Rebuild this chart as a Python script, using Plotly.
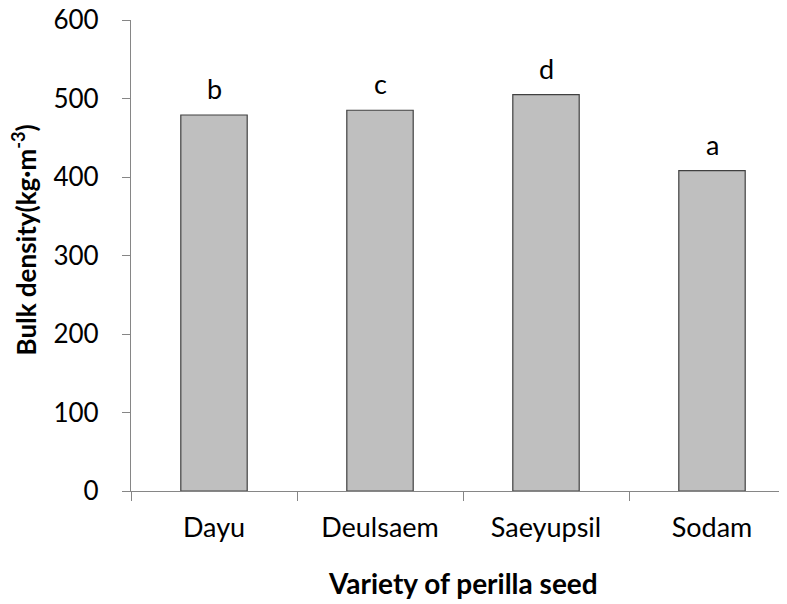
import plotly.graph_objects as go

varieties = ["Dayu", "Deulsaem", "Saeyupsil", "Sodam"]
bulk_density = [479, 485, 505, 408]
letters = ["b", "c", "d", "a"]
y_ticks = [0, 100, 200, 300, 400, 500, 600]

FONT = "Lato, 'Open Sans', sans-serif"
AXIS_COLOR = "#868686"

fig = go.Figure()
fig.add_trace(go.Bar(
    x=varieties, y=bulk_density, width=0.4,
    marker=dict(color="#BFBFBF", line=dict(color="#404040", width=1.2)),
    showlegend=False,
))

for v, val, lt in zip(varieties, bulk_density, letters):
    fig.add_annotation(x=v, y=val, xref="x", yref="y", text=lt, showarrow=False,
                       yanchor="bottom", yshift=8,
                       font=dict(family=FONT, size=27, color="black"))

fig.add_annotation(xref="paper", yref="paper", x=0.5, y=-0.195, text="<b>Variety of perilla seed</b>",
                   showarrow=False, xanchor="center", yanchor="middle",
                   font=dict(family=FONT, size=28, color="black"))
fig.add_annotation(xref="paper", yref="paper", x=-0.159, y=0.533,
                   text="<b>Bulk density(kg·m<sup>-3</sup>)</b>", textangle=-90,
                   showarrow=False, xanchor="center", yanchor="middle",
                   font=dict(family=FONT, size=26, color="black"))

fig.update_layout(
    width=787, height=604,
    margin=dict(l=122.5, r=0, t=12, b=121, autoexpand=False),
    plot_bgcolor="white", paper_bgcolor="white",
    font=dict(family=FONT, size=27, color="black"),
)
fig.update_xaxes(
    range=[-0.5, 3.5], showline=True, linecolor=AXIS_COLOR, linewidth=1.3,
    ticks="outside", tickson="boundaries", ticklen=9, tickcolor=AXIS_COLOR, tickwidth=1.3,
    showgrid=False, zeroline=False, ticklabelstandoff=12, automargin=False,
    ticklabeloverflow="allow",
    tickfont=dict(family=FONT, size=27, color="black"),
)
fig.update_yaxes(
    range=[0, 600], tickvals=y_ticks, showline=True, linecolor=AXIS_COLOR, linewidth=1.3,
    ticks="outside", ticklen=8, tickcolor=AXIS_COLOR, tickwidth=1.3,
    showgrid=False, zeroline=False, ticklabelstandoff=18, automargin=False,
    ticklabeloverflow="allow",
    tickfont=dict(family=FONT, size=26, color="black"),
)

fig.write_html("out.html")
